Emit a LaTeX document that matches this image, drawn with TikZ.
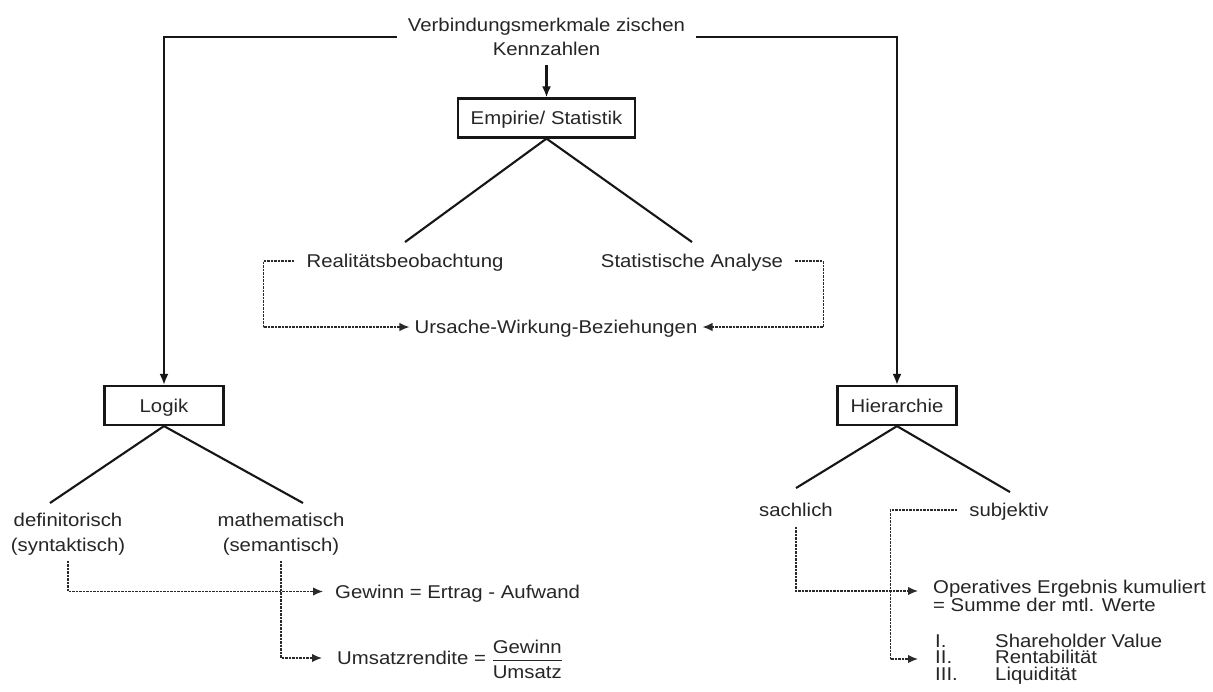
\documentclass[tikz,border=0pt]{standalone}
\usepackage{amsmath}
\usepackage{fontspec}
\setmainfont{Liberation Sans}[FakeStretch=1.1]
\usetikzlibrary{arrows.meta}
\definecolor{ink}{HTML}{161616}
\definecolor{txt}{HTML}{262626}
\definecolor{dots}{HTML}{2A2A2A}
\begin{document}
\begin{tikzpicture}[x=1pt,y=1pt,
  every node/.style={text=txt, font=\fontsize{18.5}{24}\selectfont},
  lbl/.style={inner xsep=12pt, inner ysep=3pt, text height=13.5pt, text depth=0pt},
  grp/.style={inner sep=0pt},
  kbox/.style={draw=ink, line width=2.2pt, minimum width=119pt, minimum height=39pt,
               inner xsep=13pt, text height=13.5pt, text depth=0pt},
  edge/.style={draw=ink, line width=2.1pt},
  arr/.style={edge, -{Latex[length=11pt,width=9pt]}},
  dl/.style={draw=dots, line width=1.4pt, dash pattern=on 2.5pt off 1pt,
             -{Latex[length=10pt,width=8.5pt]}}]

\fill[white] (0,0) rectangle (1213,-691);
\useasboundingbox (0,0) rectangle (1213,-691);

% heading
\node[grp, inner xsep=11pt, align=center, anchor=north] (title) at (546.5,-18)
  {Verbindungsmerkmale zischen\\Kennzahlen};

% middle branch
\node[kbox] (emp) at (546.5,-118) {Empirie/ Statistik};
\node[lbl] (reo) at (405,-261) {Realitätsbeobachtung};
\node[lbl] (sta) at (692,-261) {Statistische Analyse};
\node[lbl, inner xsep=5pt] (urs) at (556,-327) {Ursache-Wirkung-Beziehungen};

% left branch
\node[kbox] (logik) at (164,-405.5) {Logik};
\node[grp, align=center, anchor=north, font=\fontsize{18.5}{25}\selectfont] (def) at (68,-513)
  {definitorisch\\(syntaktisch)};
\node[grp, align=center, anchor=north, font=\fontsize{18.5}{25}\selectfont] (mat) at (281,-513)
  {mathematisch\\(semantisch)};
\node[lbl, anchor=west] (gew) at (323,-591.5) {Gewinn = Ertrag - Aufwand};
\node[lbl, anchor=west, inner xsep=15pt] (ums) at (322,-658)
  {Umsatzrendite = $\genfrac{}{}{1.6pt}{0}{\mbox{Gewinn}}{\mbox{Umsatz}}$};

% right branch
\node[kbox] (hier) at (897,-405.5) {Hierarchie};
\node[lbl] (sach) at (796,-510) {sachlich};
\node[lbl] (subj) at (1009,-510) {subjektiv};
\node[grp, align=left, anchor=north west, font=\fontsize{18.5}{15.5}\selectfont] (op) at (933,-579.5)
  {Operatives Ergebnis kumuliert\\= Summe der mtl. Werte};
\node[grp, align=left, anchor=north west, font=\fontsize{18.5}{16.5}\selectfont] (lst) at (935,-633.5)
  {\makebox[60pt][l]{I.}Shareholder Value\\
   \makebox[60pt][l]{II.}Rentabilität\\
   \makebox[60pt][l]{III.}Liquidität};

% solid connectors
\draw[arr] (title.west) -| (logik.north);
\draw[arr] (title.east) -| (hier.north);
\draw[arr] ([yshift=-9.5pt]title.south) -- (emp.north);
\draw[edge] ([yshift=9pt]reo.north) -- (emp.south) -- ([yshift=9pt]sta.north);
\draw[edge] ([shift={(-18,10)}]def.north) -- (logik.south) -- ([shift={(22,10)}]mat.north);
\draw[edge] ([yshift=12pt]sach.north) -- (hier.south) -- ([shift={(1,8)}]subj.north);

% dotted connectors
\draw[dl] (reo.west) -- ++(-31,0) |- (urs.west);
\draw[dl] (sta.east) -- ++(28,0) |- (urs.east);
\draw[dl] ([yshift=-5pt]def.south) |- (gew.west);
\draw[dl] ([yshift=-5pt]mat.south) |- (ums.west);
\draw[dl] ([yshift=-7pt]sach.south) |- ([shift={(-15,-11.5)}]op.north west);
\draw[dl] (subj.west) -- ++(-67,0) |- ([shift={(-17,-25.5)}]lst.north west);
\end{tikzpicture}
\end{document}
